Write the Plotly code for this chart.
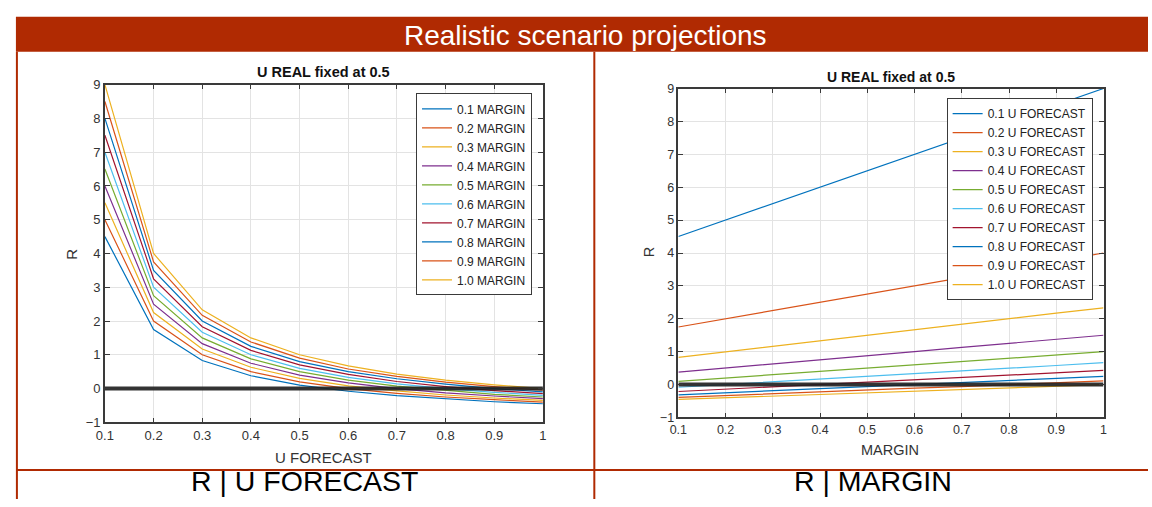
import plotly.graph_objects as go

# ---------------- data ----------------
u_forecast = [0.1, 0.2, 0.3, 0.4, 0.5, 0.6, 0.7, 0.8, 0.9, 1.0]
margin = [0.1, 0.2, 0.3, 0.4, 0.5, 0.6, 0.7, 0.8, 0.9, 1.0]
margin_labels = ["0.1 MARGIN", "0.2 MARGIN", "0.3 MARGIN", "0.4 MARGIN", "0.5 MARGIN",
                 "0.6 MARGIN", "0.7 MARGIN", "0.8 MARGIN", "0.9 MARGIN", "1.0 MARGIN"]
forecast_labels = ["0.1 U FORECAST", "0.2 U FORECAST", "0.3 U FORECAST", "0.4 U FORECAST",
                   "0.5 U FORECAST", "0.6 U FORECAST", "0.7 U FORECAST", "0.8 U FORECAST",
                   "0.9 U FORECAST", "1.0 U FORECAST"]

# R over U FORECAST (0.1 .. 1.0), one list per margin
r_m01 = [4.50, 1.75, 0.83, 0.38, 0.10, -0.08, -0.21, -0.31, -0.39, -0.45]
r_m02 = [5.00, 2.00, 1.00, 0.50, 0.20, 0.00, -0.14, -0.25, -0.33, -0.40]
r_m03 = [5.50, 2.25, 1.17, 0.63, 0.30, 0.08, -0.07, -0.19, -0.28, -0.35]
r_m04 = [6.00, 2.50, 1.33, 0.75, 0.40, 0.17, 0.00, -0.13, -0.22, -0.30]
r_m05 = [6.50, 2.75, 1.50, 0.88, 0.50, 0.25, 0.07, -0.06, -0.17, -0.25]
r_m06 = [7.00, 3.00, 1.67, 1.00, 0.60, 0.33, 0.14, 0.00, -0.11, -0.20]
r_m07 = [7.50, 3.25, 1.83, 1.13, 0.70, 0.42, 0.21, 0.06, -0.06, -0.15]
r_m08 = [8.00, 3.50, 2.00, 1.25, 0.80, 0.50, 0.29, 0.13, 0.00, -0.10]
r_m09 = [8.50, 3.75, 2.17, 1.38, 0.90, 0.58, 0.36, 0.19, 0.06, -0.05]
r_m10 = [9.00, 4.00, 2.33, 1.50, 1.00, 0.67, 0.43, 0.25, 0.11, 0.00]
r_by_margin = [r_m01, r_m02, r_m03, r_m04, r_m05, r_m06, r_m07, r_m08, r_m09, r_m10]

zero_x = [0.1, 1.0]
zero_y = [0, 0]

colors = ["#0072BD", "#D95319", "#EDB120", "#7E2F8E", "#77AC30",
          "#4DBEEE", "#A2142F", "#0072BD", "#D95319", "#EDB120"]

RED = "#B02A02"
W, H = 1152, 507


def px(x):
    return x / W


def py(y):
    return 1 - y / H


fig = go.Figure()

# left plot: R vs U FORECAST
for i, (lbl, ys) in enumerate(zip(margin_labels, r_by_margin)):
    fig.add_trace(go.Scatter(x=u_forecast, y=ys, mode="lines", name=lbl,
                             line=dict(color=colors[i], width=1.2),
                             xaxis="x", yaxis="y", legend="legend"))
fig.add_trace(go.Scatter(x=zero_x, y=zero_y, mode="lines", showlegend=False,
                         line=dict(color="rgba(30,30,30,0.9)", width=4),
                         xaxis="x", yaxis="y"))

# right plot: R vs MARGIN, one line per U FORECAST
for k, lbl in enumerate(forecast_labels):
    ys = [r_by_margin[j][k] for j in range(len(margin))]
    fig.add_trace(go.Scatter(x=margin, y=ys, mode="lines", name=lbl,
                             line=dict(color=colors[k], width=1.2),
                             xaxis="x2", yaxis="y2", legend="legend2"))
fig.add_trace(go.Scatter(x=zero_x, y=zero_y, mode="lines", showlegend=False,
                         line=dict(color="rgba(30,30,30,0.9)", width=4),
                         xaxis="x2", yaxis="y2"))

FONT = "Liberation Sans, Arial, sans-serif"


def axis_common(fs):
    return dict(showgrid=True, gridcolor="#e3e3e3", gridwidth=1,
                showline=True, linecolor="#3a3a3a", linewidth=1.5, mirror="ticks",
                ticks="inside", ticklen=5, tickcolor="#3a3a3a", tickwidth=1,
                zeroline=False, tickfont=dict(family=FONT, size=fs, color="#333333"))


xticks = [0.1, 0.2, 0.3, 0.4, 0.5, 0.6, 0.7, 0.8, 0.9, 1.0]
xtext = ["0.1", "0.2", "0.3", "0.4", "0.5", "0.6", "0.7", "0.8", "0.9", "1"]
yticks = list(range(-1, 10))

fig.update_layout(
    width=W, height=H, margin=dict(l=0, r=0, t=0, b=0),
    paper_bgcolor="white", plot_bgcolor="white",
    font=dict(family=FONT),
    xaxis=dict(domain=[px(97), px(540)], range=[0.1, 1], tickvals=xticks, ticktext=xtext,
               anchor="y", **axis_common(13)),
    yaxis=dict(domain=[py(428), py(80)], range=[-1, 9], tickvals=yticks,
               anchor="x", **axis_common(13)),
    xaxis2=dict(domain=[px(677), px(1107)], range=[0.1, 1], tickvals=xticks, ticktext=xtext,
                anchor="y2", **axis_common(12.5)),
    yaxis2=dict(domain=[py(423), py(84)], range=[-1, 9], tickvals=yticks,
                anchor="x2", **axis_common(12.5)),
    legend=dict(x=px(529), y=py(89), xanchor="right", yanchor="top",
                bgcolor="white", bordercolor="#3a3a3a", borderwidth=1,
                font=dict(family=FONT, size=12, color="#222222"),
                tracegroupgap=0, itemwidth=30),
    legend2=dict(x=px(1096), y=py(94), xanchor="right", yanchor="top",
                 bgcolor="white", bordercolor="#3a3a3a", borderwidth=1,
                 font=dict(family=FONT, size=12, color="#222222"),
                 tracegroupgap=0, itemwidth=30),
    shapes=[
        dict(type="rect", xref="paper", yref="paper", x0=px(7), x1=1, y0=py(46), y1=py(10),
             fillcolor=RED, line=dict(width=0), layer="below"),
        dict(type="line", xref="paper", yref="paper", x0=px(8), x1=px(8), y0=0, y1=py(46),
             line=dict(color=RED, width=2)),
        dict(type="line", xref="paper", yref="paper", x0=px(592), x1=px(592), y0=0, y1=py(46),
             line=dict(color=RED, width=2)),
        dict(type="line", xref="paper", yref="paper", x0=px(8), x1=1, y0=py(477), y1=py(477),
             line=dict(color=RED, width=2)),
    ],
    annotations=[
        dict(text="Realistic scenario projections", xref="paper", yref="paper",
             x=px(583), y=py(29), showarrow=False, xanchor="center", yanchor="middle",
             font=dict(family=FONT, size=28, color="white")),
        dict(text="<b>U REAL fixed at 0.5</b>", xref="paper", yref="paper",
             x=px(318), y=py(67), showarrow=False, xanchor="center", yanchor="middle",
             font=dict(family=FONT, size=14.5, color="#111111")),
        dict(text="<b>U REAL fixed at 0.5</b>", xref="paper", yref="paper",
             x=px(892), y=py(72), showarrow=False, xanchor="center", yanchor="middle",
             font=dict(family=FONT, size=14, color="#111111")),
        dict(text="R", xref="paper", yref="paper", x=px(63), y=py(255), textangle=-90,
             showarrow=False, xanchor="center", yanchor="middle",
             font=dict(family=FONT, size=15, color="#333333")),
        dict(text="R", xref="paper", yref="paper", x=px(647), y=py(253), textangle=-90,
             showarrow=False, xanchor="center", yanchor="middle",
             font=dict(family=FONT, size=14.5, color="#333333")),
        dict(text="U FORECAST", xref="paper", yref="paper", x=px(318), y=py(464),
             showarrow=False, xanchor="center", yanchor="middle",
             font=dict(family=FONT, size=15, color="#333333")),
        dict(text="MARGIN", xref="paper", yref="paper", x=px(891), y=py(457),
             showarrow=False, xanchor="center", yanchor="middle",
             font=dict(family=FONT, size=14.5, color="#333333")),
        dict(text="R | U FORECAST", xref="paper", yref="paper", x=px(299), y=0,
             showarrow=False, xanchor="center", yanchor="bottom",
             font=dict(family=FONT, size=28.5, color="black")),
        dict(text="R | MARGIN", xref="paper", yref="paper", x=px(874), y=0,
             showarrow=False, xanchor="center", yanchor="bottom",
             font=dict(family=FONT, size=28.5, color="black")),
    ],
)

fig.write_html(
    "out.html",
    config={"displayModeBar": False},
    post_script="document.body.style.margin='0px';document.body.style.overflow='hidden';",
)
